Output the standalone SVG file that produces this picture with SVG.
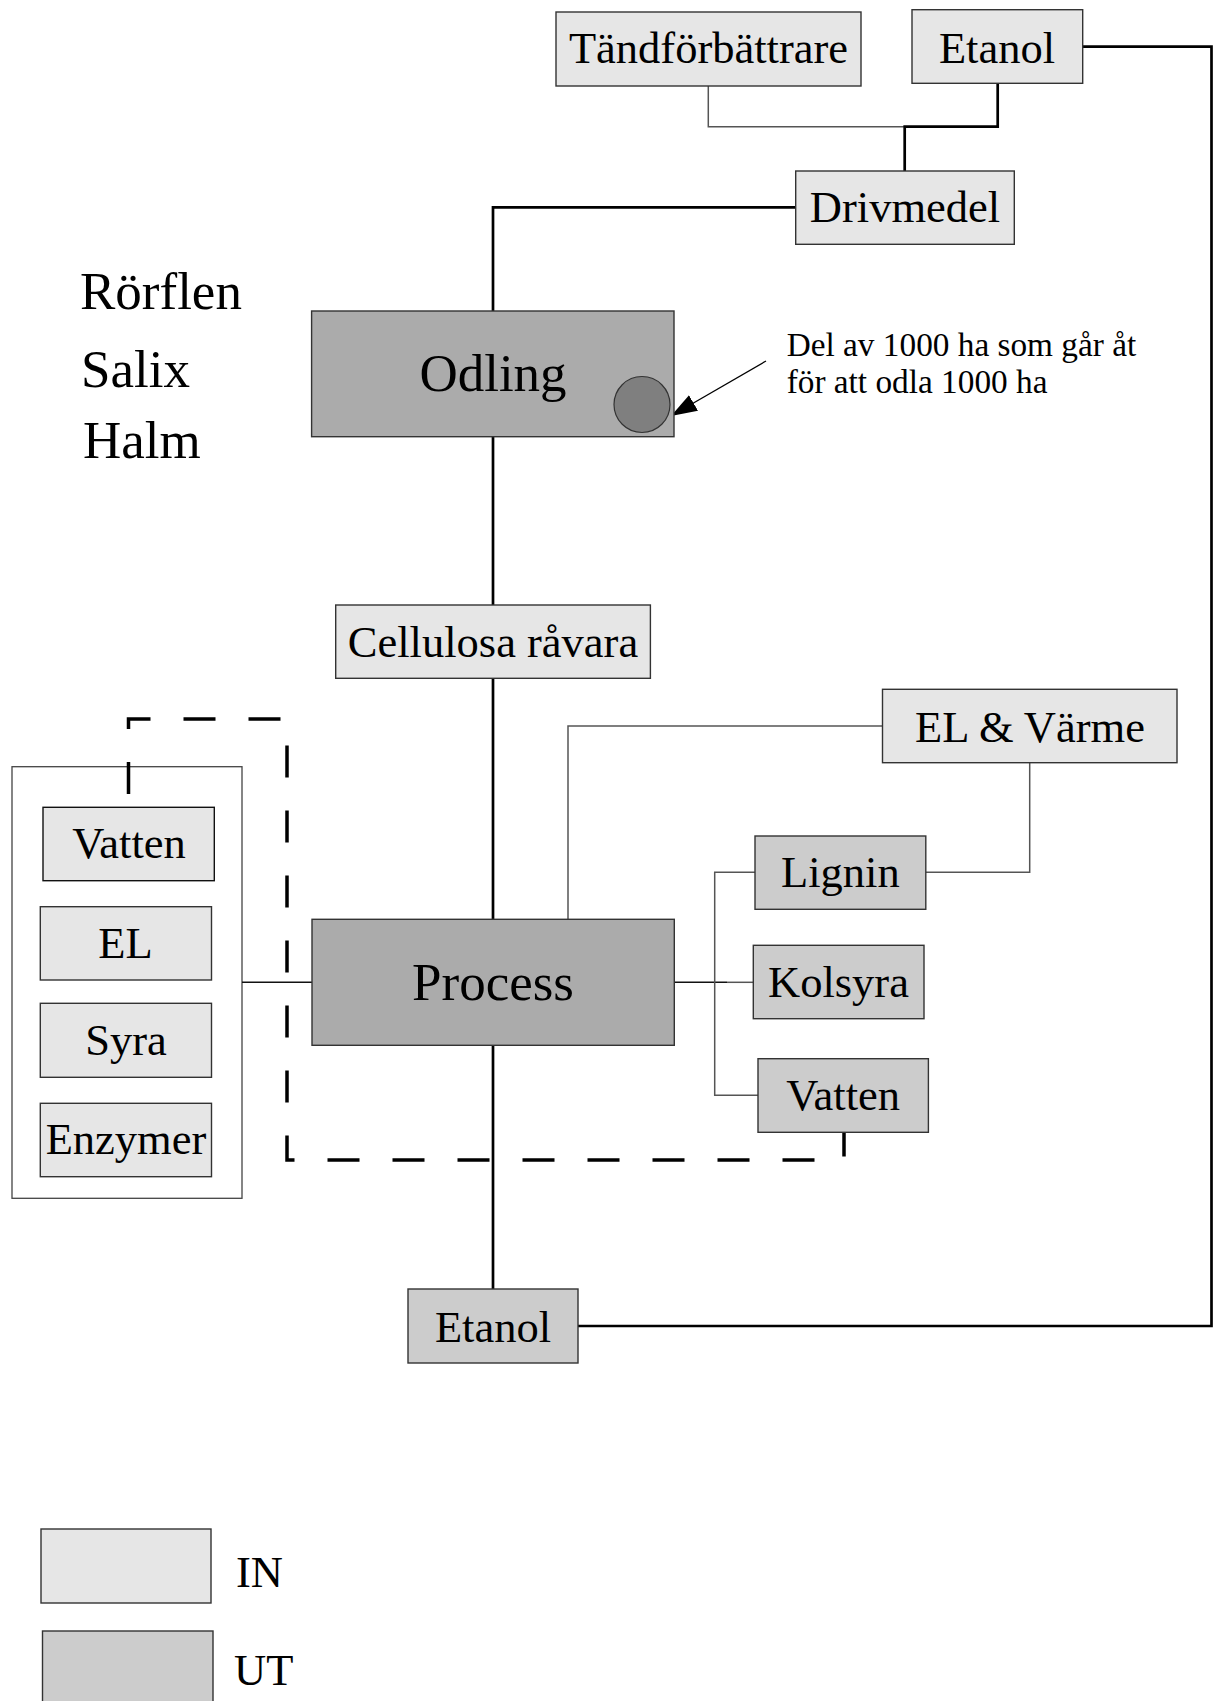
<svg xmlns="http://www.w3.org/2000/svg" width="1213" height="1701" viewBox="0 0 1213 1701">
<style>
text { font-family: "Liberation Serif", "Times New Roman", serif; fill: #000; }
.lbl { font-size: 44.5px; text-anchor: middle; }
.big { font-size: 53px; }
.bigc { font-size: 53px; text-anchor: middle; }
.note { font-size: 33.3px; }
.in { fill: #e6e6e6; stroke: #333; stroke-width: 1.4; }
.ut { fill: #cccccc; stroke: #333; stroke-width: 1.4; }
.main { fill: #ababab; stroke: #333; stroke-width: 1.4; }
.thick { fill: none; stroke: #000; stroke-width: 2.7; }
.thin { fill: none; stroke: #555; stroke-width: 1.5; }
.thinb { fill: none; stroke: #111; stroke-width: 1.5; }
.dash { fill: none; stroke: #000; stroke-width: 3.5; stroke-dasharray: 32 33; }
</style>
<defs>
<marker id="arr" markerWidth="26" markerHeight="18" refX="26" refY="9" orient="auto" markerUnits="userSpaceOnUse">
<path d="M0,0 L26,9 L0,18 Z" fill="#000"/>
</marker>
</defs>
<rect width="1213" height="1701" fill="#fff"/>

<g id="labels-left">
<text class="big" x="80" y="309">Rörflen</text>
<text class="big" x="81" y="387">Salix</text>
<text class="big" x="83" y="458">Halm</text>
</g>

<g id="container-in">
<rect x="12" y="766.7" width="230" height="431.6" fill="#fff" stroke="#444" stroke-width="1.3"/>
</g>

<g id="connectors">
<path class="thick" d="M1083,46.7 H1211.5 V1326 H578"/>
<path class="thin" d="M708.3,86 V126.7 H904.7"/>
<path class="thick" d="M997.7,83.3 V126.7 H904.7 V171"/>
<path class="thick" d="M795.7,207.3 H493 V311"/>
<path class="thick" d="M493,437 V605"/>
<path class="thick" d="M493,678 V919.3"/>
<path class="thick" d="M493,1045.3 V1289"/>
<path class="thin" d="M568,919.3 V726 H882.5"/>
<path class="thin" d="M1029.7,762.7 V872.3 H925.8"/>
<path class="thinb" d="M674,982.3 H727"/>
<path class="thin" d="M727,982.3 H753.3"/>
<path class="thin" d="M755,872.3 H714.7 V1095.3 H758"/>
<path class="thinb" d="M242,982.3 H312"/>
<path class="dash" d="M128.5,794 V719 H287 V1160 H844 V1132.3"/>
<path fill="none" stroke="#000" stroke-width="1.3" d="M766,361 L671,416" marker-end="url(#arr)"/>
</g>

<g id="node-tandforbattrare">
<rect class="in" x="556" y="12" width="305" height="74"/>
<text class="lbl" x="708.5" y="63.3">Tändförbättrare</text>
</g>
<g id="node-etanol-top">
<rect class="in" x="912" y="9.7" width="170.7" height="73.6"/>
<text class="lbl" x="997" y="63.3">Etanol</text>
</g>
<g id="node-drivmedel">
<rect class="in" x="795.7" y="171" width="218.6" height="73.3"/>
<text class="lbl" x="905" y="221.7">Drivmedel</text>
</g>
<g id="node-odling">
<rect class="main" x="311.6" y="311" width="362.4" height="125.7"/>
<text class="bigc" x="493" y="391">Odling</text>
<circle cx="642" cy="404.5" r="28" fill="#7f7f7f" stroke="#333" stroke-width="1.2"/>
</g>
<g id="note">
<text class="note" x="786.7" y="356">Del av 1000 ha som går åt</text>
<text class="note" x="786.7" y="393.3">för att odla 1000 ha</text>
</g>
<g id="node-cellulosa">
<rect class="in" x="335.7" y="605" width="314.7" height="73.3"/>
<text class="lbl" x="493" y="657">Cellulosa råvara</text>
</g>
<g id="node-process">
<rect class="main" x="312" y="919.3" width="362.3" height="126"/>
<text class="bigc" x="493" y="1000">Process</text>
</g>
<g id="node-el-varme">
<rect class="in" x="882.5" y="689.3" width="294.5" height="73.4"/>
<text class="lbl" x="1030" y="741.7">EL &amp; Värme</text>
</g>
<g id="node-lignin">
<rect class="ut" x="755" y="836" width="170.8" height="73.3"/>
<text class="lbl" x="840.4" y="887.3">Lignin</text>
</g>
<g id="node-kolsyra">
<rect class="ut" x="753.3" y="945.3" width="170.7" height="73.4"/>
<text class="lbl" x="838.5" y="996.7">Kolsyra</text>
</g>
<g id="node-vatten-ut">
<rect class="ut" x="758" y="1058.7" width="170.4" height="73.6"/>
<text class="lbl" x="843.2" y="1110">Vatten</text>
</g>
<g id="node-vatten-in">
<rect class="in" x="43" y="807.3" width="171.3" height="73.4" style="stroke:#111"/>
<text class="lbl" x="129" y="858.3">Vatten</text>
</g>
<g id="node-el">
<rect class="in" x="40.3" y="906.7" width="171.2" height="73.3"/>
<text class="lbl" x="125.5" y="957.7">EL</text>
</g>
<g id="node-syra">
<rect class="in" x="40.3" y="1003.3" width="171.2" height="74"/>
<text class="lbl" x="126" y="1055">Syra</text>
</g>
<g id="node-enzymer">
<rect class="in" x="40.3" y="1103.3" width="171.2" height="73.4"/>
<text class="lbl" x="126" y="1154">Enzymer</text>
</g>
<g id="node-etanol-bottom">
<rect class="ut" x="408" y="1289" width="170" height="74"/>
<text class="lbl" x="493" y="1341.7">Etanol</text>
</g>
<g id="legend">
<rect class="in" x="41" y="1529" width="170" height="74"/>
<text class="lbl" x="236" y="1587" style="text-anchor:start">IN</text>
<rect class="ut" x="42.5" y="1631" width="170.5" height="76"/>
<text class="lbl" x="234" y="1685" style="text-anchor:start">UT</text>
</g>
</svg>
